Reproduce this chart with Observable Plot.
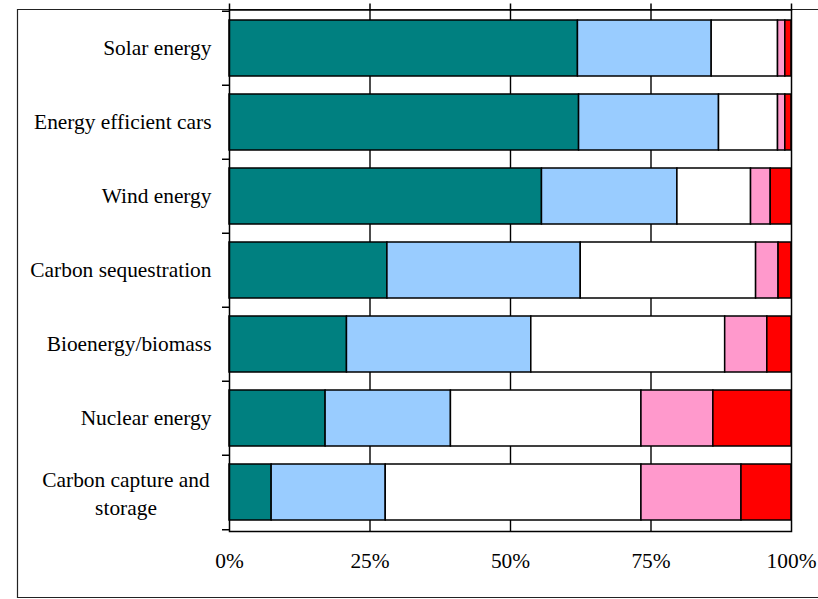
<!DOCTYPE html>
<html>
<head>
<meta charset="utf-8">
<script src="https://cdn.jsdelivr.net/npm/d3@7"></script>
<script src="https://cdn.jsdelivr.net/npm/@observablehq/plot@0.6"></script>
<style>
  html, body { margin: 0; padding: 0; background: #fff; }
  #chart svg { display: block; }
</style>
</head>
<body>
<div id="chart"></div>
<script>
// Technologies, top to bottom
const categories = [
  "Solar energy",
  "Energy efficient cars",
  "Wind energy",
  "Carbon sequestration",
  "Bioenergy/biomass",
  "Nuclear energy",
  "Carbon capture and storage"
];

// Response groups, stacked left to right (percent of respondents)
const series = ["Strongly support", "Support", "Neutral", "Oppose", "Strongly oppose"];
const strongSupport = [62.0, 62.2, 55.6, 28.1, 20.9, 17.1, 7.5];
const support       = [23.8, 24.9, 24.1, 34.4, 32.8, 22.3, 20.3];
const neutral       = [11.8, 10.5, 13.1, 31.2, 34.5, 33.9, 45.5];
const oppose        = [1.3, 1.3, 3.5, 4.0, 7.5, 12.8, 17.8];
const strongOppose  = [1.1, 1.1, 3.7, 2.3, 4.3, 13.9, 8.9];
const seriesColors  = ["#008080", "#99CCFF", "#FFFFFF", "#FF99CC", "#FF0000"];

const xTicks = [0, 25, 50, 75, 100];

// Long-form rows for the stacked bars
const seriesValues = [strongSupport, support, neutral, oppose, strongOppose];
const rows = [];
series.forEach((s, i) => {
  categories.forEach((c, j) => rows.push({category: c, series: s, value: seriesValues[i][j]}));
});

const W = 818, H = 599;
const mTop = 9.5, mBottom = 68, mLeft = 229, mRight = 27;
const step = (H - mTop - mBottom) / categories.length;
const lastCat = categories[categories.length - 1];

const chart = Plot.plot({
  width: W,
  height: H,
  marginTop: mTop,
  marginBottom: mBottom,
  marginLeft: mLeft,
  marginRight: mRight,
  style: {fontFamily: "'Liberation Serif', 'Times New Roman', serif", fontSize: "21.4px", color: "black", background: "white"},
  x: {domain: [0, 100], axis: null},
  y: {domain: categories, paddingInner: 0.248, paddingOuter: 0.124, axis: null},
  color: {domain: series, range: seriesColors},
  marks: [
    Plot.gridX(xTicks.slice(1, -1), {stroke: "black", strokeOpacity: 1, strokeWidth: 1.4}),
    Plot.barX(rows, Plot.stackX({
      x: "value", y: "category", fill: "series", order: series,
      stroke: "black", strokeWidth: 1.5
    })),
    Plot.frame({stroke: "black", strokeWidth: 1.5}),
    // tick marks above the plot area
    Plot.axisX(xTicks, {anchor: "top", label: null, tickSize: 7, tickPadding: 0, tickFormat: () => "", strokeWidth: 1.5}),
    // percentage labels below
    Plot.axisX(xTicks, {anchor: "bottom", label: null, tickSize: 0, tickPadding: 21, tickFormat: d => d + "%"}),
    // category separators on the left edge
    Plot.axisY(categories, {anchor: "left", label: null, tickSize: 7, tickFormat: () => "", dy: -step / 2, strokeWidth: 1.5}),
    Plot.axisY([lastCat], {anchor: "left", label: null, tickSize: 7, tickFormat: () => "", dy: step / 2, strokeWidth: 1.5}),
    // category names
    Plot.axisY(categories, {anchor: "left", label: null, tickSize: 0, tickPadding: 18, tickFormat: d => d === lastCat ? "" : d}),
    Plot.text([lastCat], {
      y: d => d, text: () => "Carbon capture and\nstorage",
      frameAnchor: "left", textAnchor: "middle", dx: -103.5, lineHeight: 1.31,
      fill: "black"
    })
  ]
});

// outer chart border
d3.select(chart).insert("path", ":first-child")
  .attr("d", `M${W},9.5H17.5V597.5H${W}`)
  .attr("fill", "none")
  .attr("stroke", "#222")
  .attr("stroke-width", 1.2);

document.getElementById("chart").appendChild(chart);
</script>
</body>
</html>
